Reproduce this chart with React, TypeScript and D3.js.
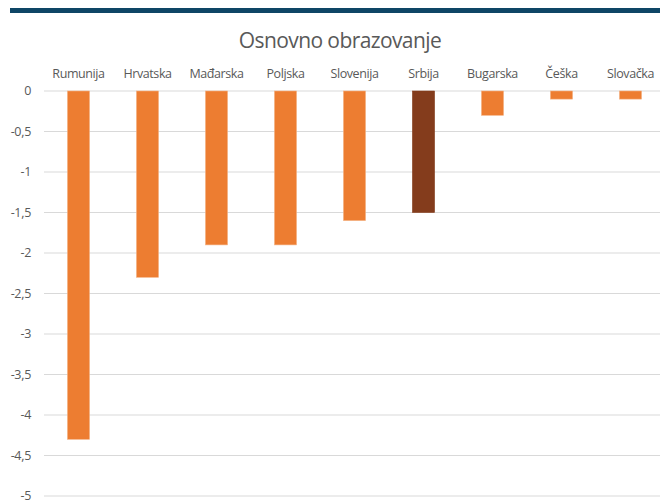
import { useEffect, useRef } from "react";
import * as d3 from "d3";

const countries = ["Rumunija", "Hrvatska", "Mađarska", "Poljska", "Slovenija", "Srbija", "Bugarska", "Češka", "Slovačka"];
const values = [-4.3, -2.3, -1.9, -1.9, -1.6, -1.5, -0.3, -0.1, -0.1];
const yTicks = [0, -0.5, -1, -1.5, -2, -2.5, -3, -3.5, -4, -4.5, -5];
const highlight = "Srbija";

export default function App() {
  const ref = useRef<SVGSVGElement>(null);

  useEffect(() => {
    const svg = d3.select(ref.current);
    svg.selectAll("*").remove();

    const W = 660;
    const H = 503;
    const font = "'Open Sans', 'Noto Sans', sans-serif";

    // header rule
    svg.append("rect").attr("x", 10).attr("y", 8).attr("width", W - 10).attr("height", 5).attr("fill", "#0E4666");

    svg.append("text")
      .attr("x", 340).attr("y", 48)
      .attr("text-anchor", "middle")
      .attr("font-family", font).attr("font-size", 21)
      .attr("fill", "#595959")
      .attr("letter-spacing", -0.6)
      .text("Osnovno obrazovanje");

    const x = d3.scaleBand().domain(countries).range([44, 665]).paddingInner(0.68).paddingOuter(0.34);
    const y = d3.scaleLinear().domain([0, -5]).range([91, 496]);

    const grid = svg.append("g");
    grid.selectAll("line").data(yTicks).enter().append("line")
      .attr("x1", 44).attr("x2", W)
      .attr("y1", d => y(d)).attr("y2", d => y(d))
      .attr("stroke", "#D9D9D9").attr("stroke-width", 1);

    grid.selectAll("text").data(yTicks).enter().append("text")
      .attr("x", 31).attr("y", d => y(d)).attr("dy", "0.35em")
      .attr("text-anchor", "end")
      .attr("font-family", font).attr("font-size", 12.5)
      .attr("letter-spacing", -0.3)
      .attr("fill", "#595959")
      .text(d => String(d).replace(".", ","));

    svg.append("g").selectAll("rect").data(countries).enter().append("rect")
      .attr("x", d => x(d)!)
      .attr("width", x.bandwidth())
      .attr("y", y(0))
      .attr("height", (d, i) => y(values[i]) - y(0))
      .attr("fill", d => (d === highlight ? "#843C1C" : "#ED7D31"))
      .attr("stroke", d => (d === highlight ? "#843C1C" : "#F4B183"))
      .attr("stroke-width", 0.6);

    svg.append("g").selectAll("text").data(countries).enter().append("text")
      .attr("x", d => x(d)! + x.bandwidth() / 2)
      .attr("y", 78)
      .attr("text-anchor", "middle")
      .attr("font-family", font).attr("font-size", 12.5)
      .attr("letter-spacing", -0.4)
      .attr("fill", "#595959")
      .text(d => d);
  }, []);

  return (
    <svg ref={ref} width={660} height={503} style={{ position: "absolute", left: 0, top: 0, background: "#fff" }} />
  );
}
